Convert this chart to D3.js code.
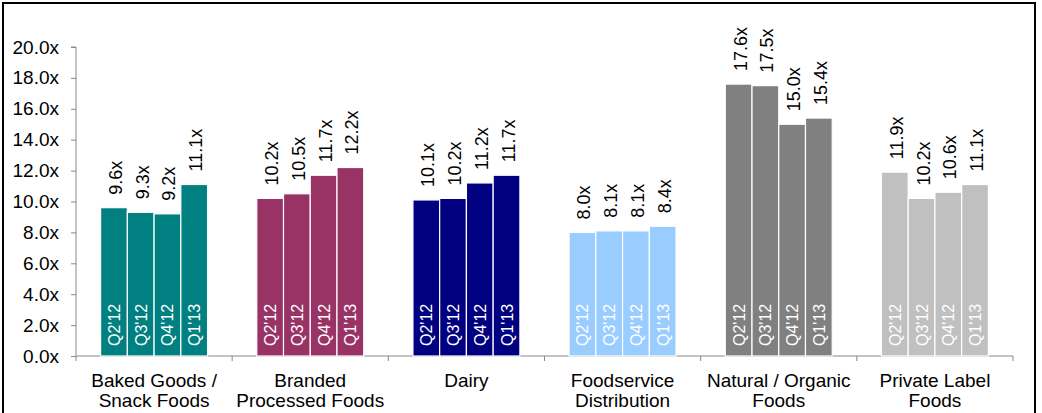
<!DOCTYPE html>
<html><head><meta charset="utf-8">
<script src="https://cdn.jsdelivr.net/npm/d3@7"></script>
<style>body{margin:0;background:#fff;} text{font-family:"Liberation Sans",Arial,sans-serif;}</style>
</head><body>
<svg id="c" width="1042" height="413"></svg>
<script>
const categories = [["Baked Goods /","Snack Foods"],["Branded","Processed Foods"],["Dairy"],["Foodservice","Distribution"],["Natural / Organic","Foods"],["Private Label","Foods"]];
const quarters = ["Q2'12","Q3'12","Q4'12","Q1'13"];
const values = [
  [9.6, 9.3, 9.2, 11.1],
  [10.2, 10.5, 11.7, 12.2],
  [10.1, 10.2, 11.2, 11.7],
  [8.0, 8.1, 8.1, 8.4],
  [17.6, 17.5, 15.0, 15.4],
  [11.9, 10.2, 10.6, 11.1]
];
const colors = ["#008080","#993366","#000080","#99CCFF","#808080","#C0C0C0"];
const yTicks = [0,2,4,6,8,10,12,14,16,18,20];

const svg = d3.select("#c");
svg.append("rect").attr("x",3).attr("y",3).attr("width",1032).attr("height",414)
  .attr("fill","none").attr("stroke","#000").attr("stroke-width",2);

const x0 = 76, x1 = 1013, yTop = 47, yBot = 356;
const y = d3.scaleLinear().domain([0,20]).range([yBot,yTop]);
const xg = d3.scaleBand().domain(d3.range(categories.length)).range([x0,x1]).paddingInner(0).paddingOuter(0);
const xb = d3.scaleBand().domain(d3.range(quarters.length)).range([0,xg.bandwidth()]).paddingOuter(0.92).paddingInner(0);

// y axis
const ya = svg.append("g").attr("transform",`translate(${x0},0)`)
  .call(d3.axisLeft(y).tickValues(yTicks).tickFormat(d=>d3.format(".1f")(d)+"x").tickSize(5).tickPadding(12));
ya.select(".domain").attr("stroke","#888").attr("d",`M-5,${yTop}H0V${yBot}`);
ya.selectAll(".tick line").attr("stroke","#888");
ya.selectAll(".tick text").attr("font-size",19).attr("fill","#000").attr("font-family","Liberation Sans, Arial, sans-serif");

// x axis
const xa = svg.append("g");
xa.append("line").attr("x1",x0).attr("x2",x1).attr("y1",yBot).attr("y2",yBot).attr("stroke","#888");
d3.range(categories.length+1).forEach(i=>{
  const xx = i<categories.length ? xg(i) : x1;
  xa.append("line").attr("x1",xx).attr("x2",xx).attr("y1",yBot).attr("y2",yBot+5).attr("stroke","#888");
});

const groups = svg.selectAll("g.grp").data(values).join("g").attr("class","grp")
  .attr("transform",(d,i)=>`translate(${xg(i)},0)`);

groups.each(function(vals,gi){
  const g = d3.select(this);
  vals.forEach((v,qi)=>{
    const bx = xb(qi), bw = xb.bandwidth();
    g.append("rect").attr("x",bx).attr("y",y(v)).attr("width",bw).attr("height",yBot-y(v))
      .attr("fill",colors[gi]).attr("stroke","#fff").attr("stroke-width",1.2);
    g.append("text").attr("transform",`translate(${bx+bw/2+8},${y(v)-13}) rotate(-90)`)
      .attr("font-size",18).attr("fill","#000").text(d3.format(".1f")(v)+"x");
    g.append("text").attr("transform",`translate(${bx+bw/2+6},${yBot-10}) rotate(-90)`)
      .attr("font-size",16).attr("fill","#fff").text(quarters[qi]);
  });
  const t = g.append("text").attr("text-anchor","middle").attr("font-size",19).attr("fill","#000");
  categories[gi].forEach((line,li)=>{
    t.append("tspan").attr("x",xg.bandwidth()/2).attr("y",yBot+31+li*20).text(line);
  });
});
</script>
</body></html>
